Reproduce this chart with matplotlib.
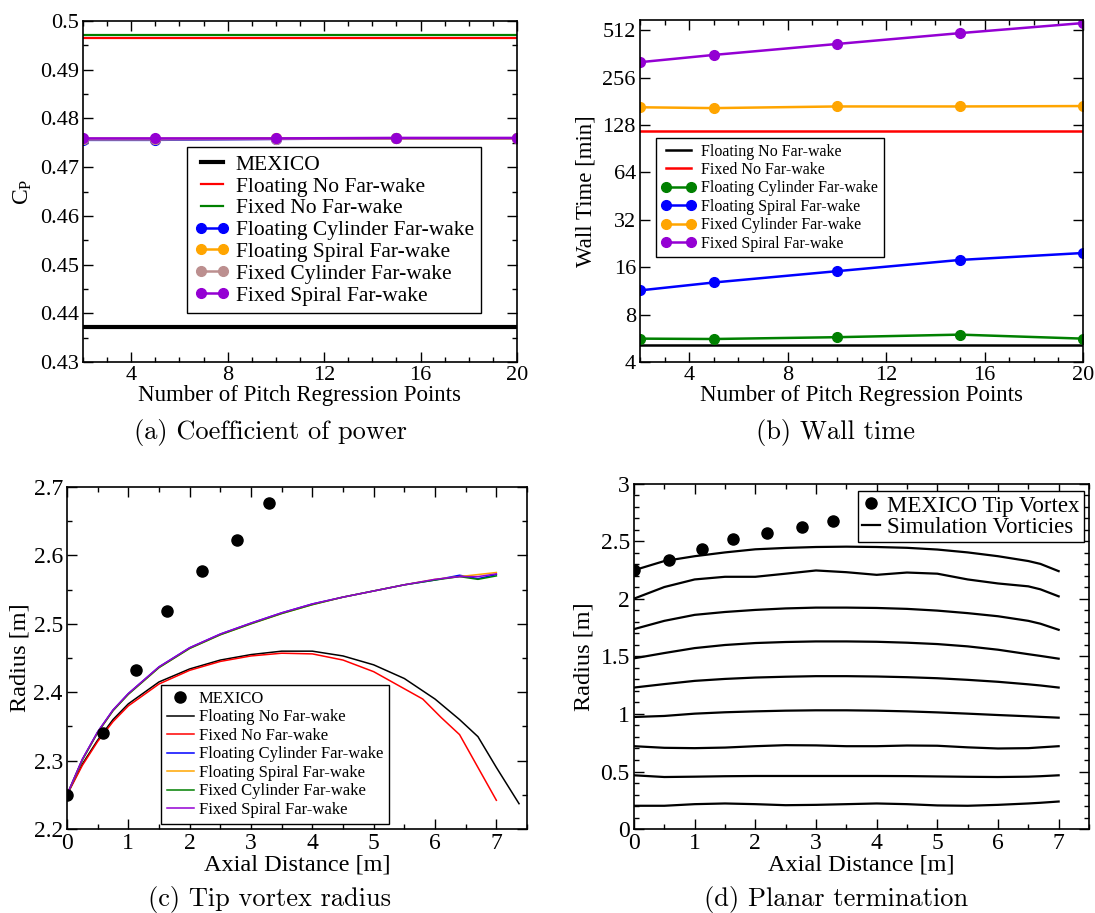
import numpy as np
import matplotlib
matplotlib.use("Agg")
import matplotlib.pyplot as plt
from matplotlib.ticker import MultipleLocator, FixedLocator, FixedFormatter, NullLocator

plt.rcParams['font.family'] = ['Liberation Serif', 'DejaVu Serif']
plt.rcParams['mathtext.fontset'] = 'custom'
plt.rcParams['mathtext.rm'] = 'Liberation Serif'
plt.rcParams['mathtext.it'] = 'Liberation Serif:italic'

# ---- (a) coefficient of power / (b) wall time vs regression points ----
n_points = [2, 5, 10, 15, 20]

cp_mexico = 0.4372
cp_floating_nofw = 0.4966
cp_fixed_nofw = 0.4972
cp_floating_cyl = [0.4756, 0.4756, 0.4758, 0.4759, 0.4759]
cp_floating_spiral = [0.4758, 0.4758, 0.4759, 0.4759, 0.4759]
cp_fixed_cyl = [0.4757, 0.4757, 0.4758, 0.4759, 0.4759]
cp_fixed_spiral = [0.4759, 0.4759, 0.4759, 0.4760, 0.4760]

wt_floating_nofw = 5.1
wt_fixed_nofw = 117.0
wt_floating_cyl = [5.63, 5.6, 5.75, 5.97, 5.63]
wt_floating_spiral = [11.4, 12.8, 15.1, 17.8, 19.7]
wt_fixed_cyl = [166, 164, 168, 168, 169]
wt_fixed_spiral = [321, 357, 419, 491, 569]
wt_ticks = [4, 8, 16, 32, 64, 128, 256, 512]

# ---- (c) tip vortex radius ----
mexico_x = [0.0, 0.58, 1.125, 1.638, 2.195, 2.775, 3.287]
mexico_r = [2.25, 2.34, 2.432, 2.518, 2.577, 2.623, 2.676]

tip_x = [0.0, 0.25, 0.5, 0.75, 1.0, 1.5, 2.0, 2.5, 3.0, 3.5, 4.0, 4.5, 5.0, 5.5, 6.0, 6.4, 6.7, 7.0]
tip_floating_cyl = [2.25, 2.302, 2.342, 2.374, 2.398, 2.437, 2.465, 2.485, 2.501, 2.516, 2.529,
                    2.539, 2.548, 2.557, 2.564, 2.571, 2.566, 2.572]
tip_floating_spiral = [2.25, 2.301, 2.341, 2.373, 2.397, 2.436, 2.464, 2.484, 2.500, 2.515, 2.528,
                       2.539, 2.548, 2.557, 2.565, 2.569, 2.572, 2.575]
tip_fixed_cyl = [2.25, 2.301, 2.341, 2.373, 2.397, 2.436, 2.464, 2.484, 2.500, 2.515, 2.528,
                 2.539, 2.548, 2.557, 2.564, 2.569, 2.565, 2.570]
tip_fixed_spiral = [2.25, 2.302, 2.342, 2.374, 2.398, 2.437, 2.465, 2.485, 2.501, 2.516, 2.529,
                    2.539, 2.548, 2.557, 2.565, 2.569, 2.569, 2.573]

nofw_x_floating = [0.0, 0.25, 0.5, 0.75, 1.0, 1.5, 2.0, 2.5, 3.0, 3.5, 4.0, 4.5, 5.0, 5.5, 6.0,
                   6.4, 6.7, 7.0, 7.37]
tip_floating_nofw = [2.25, 2.295, 2.33, 2.36, 2.383, 2.415, 2.434, 2.447, 2.455, 2.46, 2.46,
                     2.453, 2.44, 2.42, 2.39, 2.36, 2.335, 2.29, 2.237]
nofw_x_fixed = [0.0, 0.25, 0.5, 0.75, 1.0, 1.5, 2.0, 2.5, 3.0, 3.5, 4.0, 4.5, 5.0, 5.5, 5.8,
                6.1, 6.4, 7.0]
tip_fixed_nofw = [2.25, 2.293, 2.328, 2.357, 2.38, 2.412, 2.432, 2.445, 2.453, 2.457, 2.456,
                  2.447, 2.43, 2.405, 2.39, 2.363, 2.338, 2.242]

# ---- (d) planar termination vortices ----
vort_x = [0.0, 0.5, 1.0, 1.5, 2.0, 2.5, 3.0, 3.5, 4.0, 4.5, 5.0, 5.5, 6.0, 6.5, 6.7, 7.0]
vortices = [
    [2.25, 2.33, 2.372, 2.405, 2.432, 2.444, 2.452, 2.455, 2.452, 2.445, 2.43, 2.405, 2.372, 2.33, 2.305, 2.242],
    [2.003, 2.104, 2.17, 2.193, 2.193, 2.22, 2.248, 2.233, 2.21, 2.23, 2.22, 2.17, 2.135, 2.11, 2.084, 2.023],
    [1.738, 1.81, 1.862, 1.887, 1.905, 1.918, 1.925, 1.925, 1.922, 1.914, 1.899, 1.877, 1.85, 1.81, 1.785, 1.732],
    [1.484, 1.53, 1.573, 1.6, 1.617, 1.626, 1.631, 1.631, 1.628, 1.62, 1.608, 1.588, 1.559, 1.52, 1.505, 1.481],
    [1.23, 1.26, 1.288, 1.305, 1.317, 1.324, 1.329, 1.329, 1.326, 1.32, 1.311, 1.297, 1.28, 1.258, 1.248, 1.23],
    [0.974, 0.983, 1.003, 1.015, 1.023, 1.029, 1.032, 1.032, 1.029, 1.023, 1.014, 1.003, 0.991, 0.98, 0.975, 0.968],
    [0.72, 0.706, 0.703, 0.708, 0.72, 0.729, 0.727, 0.72, 0.72, 0.726, 0.724, 0.71, 0.70, 0.703, 0.71, 0.72],
    [0.467, 0.452, 0.455, 0.459, 0.461, 0.461, 0.461, 0.461, 0.461, 0.460, 0.457, 0.454, 0.452, 0.455, 0.459, 0.467],
    [0.202, 0.202, 0.216, 0.222, 0.216, 0.207, 0.21, 0.216, 0.222, 0.216, 0.205, 0.202, 0.21, 0.222, 0.228, 0.239],
]


def style_axes(ax, tick_size):
    ax.tick_params(which='both', direction='in', top=True, right=True, labelsize=tick_size, pad=3)
    ax.tick_params(which='major', length=7, width=1)
    ax.tick_params(which='minor', length=3.5, width=1)
    for s in ax.spines.values():
        s.set_linewidth(1.2)


def legend_box(ax, loc, anchor, size, spacing=0.15, pad=0.35, **kw):
    leg = ax.legend(loc=loc, bbox_to_anchor=anchor, fontsize=size, fancybox=False,
                    edgecolor='black', framealpha=1, borderaxespad=0, borderpad=pad,
                    labelspacing=spacing, handletextpad=0.3, **kw)
    leg.get_frame().set_linewidth(1.0)
    return leg


fig = plt.figure(figsize=(10.95, 9.13), dpi=100)

# (a)
ax1 = fig.add_axes([0.0758, 0.6035, 0.3963, 0.3735])
ax1.plot([2, 20], [cp_mexico, cp_mexico], color='black', lw=3, label='MEXICO')
ax1.plot([2, 20], [cp_floating_nofw, cp_floating_nofw], color='red', lw=1.6, label='Floating No Far-wake')
ax1.plot([2, 20], [cp_fixed_nofw, cp_fixed_nofw], color='green', lw=1.6, label='Fixed No Far-wake')
mk = dict(marker='o', ms=7, lw=1.8)
ax1.plot(n_points, cp_floating_cyl, color='blue', label='Floating Cylinder Far-wake', **mk)
ax1.plot(n_points, cp_floating_spiral, color='orange', label='Floating Spiral Far-wake', **mk)
ax1.plot(n_points, cp_fixed_cyl, color='rosybrown', label='Fixed Cylinder Far-wake', **mk)
ax1.plot(n_points, cp_fixed_spiral, color='darkviolet', label='Fixed Spiral Far-wake', **mk)
ax1.set_xlim(2, 20)
ax1.set_ylim(0.43, 0.5)
ax1.xaxis.set_major_locator(MultipleLocator(4))
ax1.xaxis.set_minor_locator(MultipleLocator(1))
ax1.yaxis.set_major_locator(MultipleLocator(0.01))
ax1.yaxis.set_minor_locator(MultipleLocator(0.005))
ax1.yaxis.set_major_formatter(matplotlib.ticker.FuncFormatter(lambda v, p: ('%.2f' % v).rstrip('0')))
style_axes(ax1, 16)
ax1.set_xlabel('Number of Pitch Regression Points', fontsize=16.5, labelpad=0)
ax1.set_ylabel(r'C$_\mathrm{P}$', fontsize=17, labelpad=4)
legend_box(ax1, 'upper left', (0.24, 0.63), 15.5, spacing=0.08, numpoints=2, handlelength=1.6)

# (b)
ax2 = fig.add_axes([0.5845, 0.6035, 0.4046, 0.3746])
ax2.plot([2, 20], [wt_floating_nofw] * 2, color='black', lw=1.8, label='Floating No Far-wake')
ax2.plot([2, 20], [wt_fixed_nofw] * 2, color='red', lw=1.8, label='Fixed No Far-wake')
ax2.plot(n_points, wt_floating_cyl, color='green', label='Floating Cylinder Far-wake', **mk)
ax2.plot(n_points, wt_floating_spiral, color='blue', label='Floating Spiral Far-wake', **mk)
ax2.plot(n_points, wt_fixed_cyl, color='orange', label='Fixed Cylinder Far-wake', **mk)
ax2.plot(n_points, wt_fixed_spiral, color='darkviolet', label='Fixed Spiral Far-wake', **mk)
ax2.set_yscale('log', base=2)
ax2.set_xlim(2, 20)
ax2.set_ylim(4, 595)
ax2.xaxis.set_major_locator(MultipleLocator(4))
ax2.xaxis.set_minor_locator(MultipleLocator(1))
ax2.yaxis.set_major_locator(FixedLocator(wt_ticks))
ax2.yaxis.set_major_formatter(FixedFormatter([str(t) for t in wt_ticks]))
ax2.yaxis.set_minor_locator(NullLocator())
style_axes(ax2, 16)
ax2.set_xlabel('Number of Pitch Regression Points', fontsize=16.5, labelpad=0)
ax2.set_ylabel('Wall Time [min]', fontsize=16.5, labelpad=4)
legend_box(ax2, 'upper left', (0.035, 0.655), 11.5, numpoints=2, handlelength=2.2)

# (c)
ax3 = fig.add_axes([0.0612, 0.092, 0.4201, 0.3746])
ax3.plot(mexico_x, mexico_r, 'o', color='black', ms=8, label='MEXICO', zorder=5)
ax3.plot(nofw_x_floating, tip_floating_nofw, color='black', lw=1.1, label='Floating No Far-wake')
ax3.plot(nofw_x_fixed, tip_fixed_nofw, color='red', lw=1.1, label='Fixed No Far-wake')
ax3.plot(tip_x, tip_floating_cyl, color='blue', lw=1.1, label='Floating Cylinder Far-wake')
ax3.plot(tip_x, tip_floating_spiral, color='orange', lw=1.1, label='Floating Spiral Far-wake')
ax3.plot(tip_x, tip_fixed_cyl, color='green', lw=1.1, label='Fixed Cylinder Far-wake')
ax3.plot(tip_x, tip_fixed_spiral, color='darkviolet', lw=1.1, label='Fixed Spiral Far-wake')
ax3.set_xlim(0, 7.5)
ax3.set_ylim(2.2, 2.7)
ax3.xaxis.set_major_locator(MultipleLocator(1))
ax3.xaxis.set_minor_locator(MultipleLocator(0.5))
ax3.yaxis.set_major_locator(MultipleLocator(0.1))
ax3.yaxis.set_minor_locator(MultipleLocator(0.05))
ax3.yaxis.set_major_formatter(matplotlib.ticker.FormatStrFormatter('%.1f'))
style_axes(ax3, 17)
ax3.set_xlabel('Axial Distance [m]', fontsize=17.5, labelpad=0)
ax3.set_ylabel('Radius [m]', fontsize=17.5, labelpad=2)
legend_box(ax3, 'upper left', (0.205, 0.421), 12, numpoints=1, handlelength=1.6)

# (d)
ax4 = fig.add_axes([0.579, 0.092, 0.4155, 0.3779])
ax4.plot(mexico_x, mexico_r, 'o', color='black', ms=8, label='MEXICO Tip Vortex', zorder=5)
for i, r in enumerate(vortices):
    ax4.plot(vort_x, r, color='black', lw=1.6, label='Simulation Vorticies' if i == 0 else None)
ax4.set_xlim(0, 7.5)
ax4.set_ylim(0, 3)
ax4.xaxis.set_major_locator(MultipleLocator(1))
ax4.xaxis.set_minor_locator(MultipleLocator(0.5))
ax4.yaxis.set_major_locator(MultipleLocator(0.5))
ax4.yaxis.set_minor_locator(MultipleLocator(0.1))
ax4.yaxis.set_major_formatter(matplotlib.ticker.FuncFormatter(lambda v, p: ('%.1f' % v).rstrip('0').rstrip('.')))
style_axes(ax4, 17)
ax4.set_xlabel('Axial Distance [m]', fontsize=17.5, labelpad=0)
ax4.set_ylabel('Radius [m]', fontsize=17.5, labelpad=4)
legend_box(ax4, 'upper right', (0.99, 0.98), 16.5, spacing=0.0, pad=0.2,
           numpoints=1, handlelength=0.8)

# sub-figure captions
cap = dict(ha='center', va='center', fontsize=19, family='cmr10')
fig.text(270 / 1095, 1 - 432 / 913, '(a) Coefficient of power', **cap)
fig.text(836 / 1095, 1 - 432 / 913, '(b) Wall time', **cap)
fig.text(270 / 1095, 1 - 899 / 913, '(c) Tip vortex radius', **cap)
fig.text(836 / 1095, 1 - 899 / 913, '(d) Planar termination', **cap)

fig.savefig('out.png', dpi=100)
